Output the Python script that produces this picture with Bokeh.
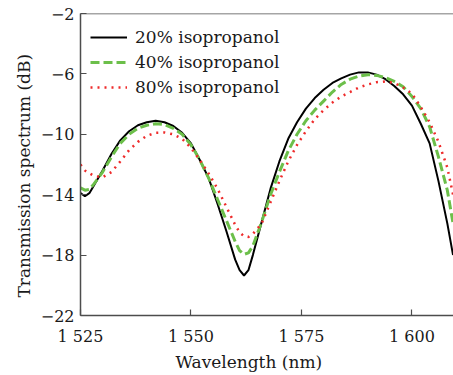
from bokeh.plotting import figure
from bokeh.models import Range1d, FixedTicker, CustomJSTickFormatter, Span, Title
from bokeh.embed import file_html
from bokeh.resources import INLINE

# ---- data ----
wl_20 = [1525, 1526, 1527, 1528, 1530, 1532, 1534, 1536, 1538, 1540, 1542, 1544, 1546, 1548,
         1550, 1552, 1554, 1556, 1558, 1560, 1561, 1562, 1563, 1564, 1566, 1568, 1570, 1572,
         1574, 1576, 1578, 1580, 1582, 1584, 1586, 1588, 1590, 1592, 1594, 1596, 1598, 1600,
         1602, 1604, 1606, 1608, 1609.3]
t_20 = [-13.9, -14.1, -13.9, -13.4, -12.4, -11.3, -10.4, -9.8, -9.4, -9.2, -9.1, -9.2, -9.45, -9.9,
        -10.6, -11.7, -12.9, -14.6, -16.4, -18.3, -19.0, -19.35, -19.0, -18.0, -15.8, -13.6, -11.8, -10.3,
        -9.2, -8.3, -7.6, -7.05, -6.6, -6.3, -6.05, -5.9, -5.9, -6.05, -6.35, -6.8, -7.35, -8.1,
        -9.3, -10.6, -13.1, -15.9, -18.0]

wl_40 = [1525, 1526, 1527, 1528, 1530, 1532, 1534, 1536, 1538, 1540, 1542, 1544, 1546, 1548,
         1550, 1552, 1554, 1556, 1558, 1560, 1561, 1562, 1563, 1564, 1566, 1568, 1570, 1572,
         1574, 1576, 1578, 1580, 1582, 1584, 1586, 1588, 1590, 1592, 1594, 1596, 1598, 1600,
         1602, 1604, 1606, 1608, 1609.3]
t_40 = [-13.55, -13.7, -13.65, -13.3, -12.5, -11.5, -10.6, -10.0, -9.6, -9.4, -9.3, -9.35, -9.6, -10.0,
        -10.7, -11.7, -12.9, -14.3, -15.7, -17.1, -17.7, -17.95, -17.85, -17.4, -15.8, -14.0, -12.5, -11.1,
        -10.0, -9.1, -8.4, -7.8, -7.2, -6.7, -6.35, -6.15, -6.05, -6.1, -6.25, -6.5, -6.85, -7.5,
        -8.3, -9.5, -11.5, -13.7, -15.9]

wl_80 = [1525, 1526, 1528, 1530, 1532, 1534, 1536, 1538, 1540, 1542, 1544, 1546, 1548,
         1550, 1552, 1554, 1556, 1558, 1560, 1561, 1562, 1563, 1564, 1566, 1568, 1570, 1572,
         1574, 1576, 1578, 1580, 1582, 1584, 1586, 1588, 1590, 1592, 1594, 1596, 1598, 1600,
         1602, 1604, 1606, 1608, 1609.3]
t_80 = [-12.0, -12.4, -12.75, -12.85, -12.5, -11.8, -11.05, -10.5, -10.1, -9.9, -9.88, -10.0, -10.3,
        -10.9, -11.7, -12.6, -13.6, -14.8, -16.0, -16.5, -16.75, -16.8, -16.6, -15.9, -14.5, -13.1, -11.8,
        -10.7, -9.8, -9.0, -8.4, -7.9, -7.5, -7.2, -6.9, -6.7, -6.55, -6.5, -6.6, -6.9, -7.3,
        -8.2, -9.2, -10.5, -12.2, -14.0]

x_ticks = [1525, 1550, 1575, 1600]
y_ticks = [-22, -18, -14, -10, -6, -2]
series_labels = ["20% isopropanol", "40% isopropanol", "80% isopropanol"]
x_title = "Wavelength (nm)"
y_title = "Transmission spectrum (dB)"

FONT = "DejaVu Serif"
AX = "#4d4d4d"
TXT = "#1a1a1a"

p = figure(width=453, height=375, output_backend="svg", toolbar_location=None,
           x_range=Range1d(1525, 1609.4), y_range=Range1d(-22, -2),
           min_border_left=80, min_border_right=0, min_border_top=13, min_border_bottom=60)
p.outline_line_color = None
p.grid.visible = False
p.background_fill_color = "white"
p.border_fill_color = "white"

p.line(wl_20, t_20, line_color="black", line_width=2, legend_label=series_labels[0])
p.line(wl_40, t_40, line_color="#6cbf4a", line_width=3, line_dash="9 4", legend_label=series_labels[1])
p.line(wl_80, t_80, line_color="#ee2b2b", line_width=2.5, line_dash="2 5", legend_label=series_labels[2])

p.add_layout(Span(location=-2, dimension="width", line_color=AX, line_width=1.5))

for ax in (p.xaxis[0], p.yaxis[0]):
    ax.axis_line_color = AX
    ax.axis_line_width = 1.5
    ax.major_tick_line_color = AX
    ax.major_tick_line_width = 1.2
    ax.major_tick_in = 6
    ax.major_tick_out = 0
    ax.minor_tick_line_color = None
    ax.major_label_text_font = FONT
    ax.major_label_text_font_size = "16px"
    ax.major_label_text_color = TXT

p.xaxis.ticker = FixedTicker(ticks=x_ticks)
p.yaxis.ticker = FixedTicker(ticks=y_ticks)
p.xaxis.formatter = CustomJSTickFormatter(code="""
const s = Math.round(tick).toString();
return s.length > 3 ? s.slice(0, s.length - 3) + ' ' + s.slice(-3) : s;
""")
p.yaxis.formatter = CustomJSTickFormatter(code="""
return tick < 0 ? '\\u2212' + Math.abs(tick) : tick.toString();
""")
p.xaxis.major_label_standoff = 11
p.yaxis.major_label_standoff = 6

p.add_layout(Title(text=x_title, align="left", offset=95, standoff=2,
                   text_font=FONT, text_font_size="17px", text_font_style="normal",
                   text_color=TXT), "below")
p.add_layout(Title(text=y_title, align="left", offset=18, standoff=7,
                   text_font=FONT, text_font_size="17px", text_font_style="normal",
                   text_color=TXT), "left")

lg = p.legend[0]
lg.location = (10, 216)
lg.margin = 0
lg.padding = 0
lg.spacing = 1
lg.border_line_color = None
lg.background_fill_alpha = 0
lg.glyph_width = 37
lg.glyph_height = 24
lg.label_height = 24
lg.label_standoff = 8
lg.label_text_font = FONT
lg.label_text_font_size = "17px"
lg.label_text_color = TXT

open("out.html", "w").write(file_html(p, INLINE))
